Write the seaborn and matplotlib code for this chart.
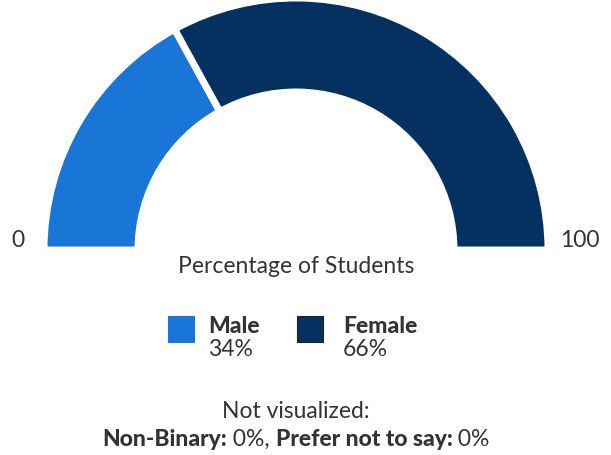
import matplotlib
matplotlib.use("Agg")
import matplotlib.pyplot as plt
import seaborn as sns

categories = ["Male", "Female"]
values = [34, 66]
colors = ["#1976d6", "#04315f"]
not_vis_labels = ["Non-Binary", "Prefer not to say"]
not_vis_values = [0, 0]
axis_min_label = "0"
axis_max_label = "100"
axis_title = "Percentage of Students"

sns.set_theme(style="white")
plt.rcParams["font.family"] = ["Lato", "DejaVu Sans"]

W, H = 611, 456
fig = plt.figure(figsize=(W / 100, H / 100), dpi=100)
ax = fig.add_axes([0, 0, 1, 1])

cx, cy = 296, H - 251
R, r = 252, 158
total = sum(values)
ax.pie(values + [total], colors=colors + ["none"], startangle=180, counterclock=False,
       radius=R, center=(cx, cy), frame=True,
       wedgeprops=dict(width=R - r, edgecolor="white", linewidth=5))
for p in ax.patches[2:]:
    p.set_visible(False)
ax.set_xlim(0, W)
ax.set_ylim(0, H)
ax.set_aspect("equal")
ax.axis("off")

tc = "#333333"
fs = 16.5
bw = 900
ax.text(18, H - 247, axis_min_label, ha="center", va="baseline", fontsize=fs, color=tc)
ax.text(580, H - 247, axis_max_label, ha="center", va="baseline", fontsize=fs, color=tc)
ax.text(296, H - 273, axis_title, ha="center", va="baseline", fontsize=fs, color=tc)

leg_x = [168, 297]
leg_tx = [208, 343]
for i, (cat, val) in enumerate(zip(categories, values)):
    x0 = leg_x[i]
    ax.add_patch(plt.Rectangle((x0, H - 343), 26, 26, facecolor=colors[i],
                               edgecolor="#222222" if i == 1 else colors[i], linewidth=0.8))
    ax.text(leg_tx[i], H - 333, cat, ha="left", va="baseline", fontsize=fs,
            fontweight=bw, color=tc)
    ax.text(leg_tx[i], H - 356, f"{val}%", ha="left", va="baseline", fontsize=fs, color=tc)

ax.text(296, H - 418, "Not visualized:", ha="center", va="baseline", fontsize=fs, color=tc)

fig.canvas.draw()
renderer = fig.canvas.get_renderer()
pieces = []
for j, (lab, v) in enumerate(zip(not_vis_labels, not_vis_values)):
    pieces.append((f"{lab}:", bw))
    pieces.append((f" {v}%" + (", " if j < len(not_vis_labels) - 1 else ""), "normal"))
texts = []
for s, w in pieces:
    t = ax.text(0, H - 446, s, ha="left", va="baseline", fontsize=fs, fontweight=w, color=tc)
    texts.append(t)
widths = [t.get_window_extent(renderer).width for t in texts]
x = cx - sum(widths) / 2
for t, w in zip(texts, widths):
    t.set_x(x)
    x += w

fig.savefig("out.png", dpi=100)
